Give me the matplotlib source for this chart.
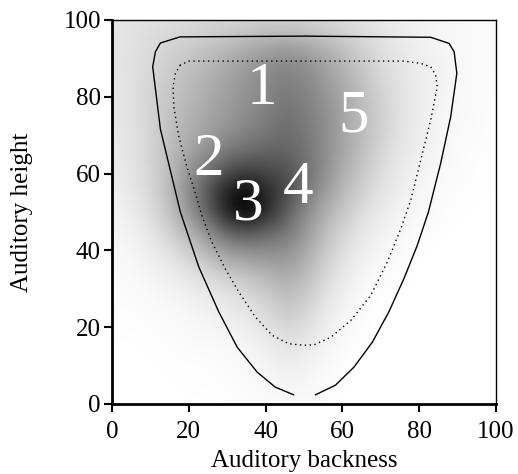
import numpy as np
import matplotlib
matplotlib.use("Agg")
import matplotlib.pyplot as plt

# density grid (darkness 0..1): rows from y=100 down to y=0, cols x=0..100, step 5
grid_x = list(range(0, 101, 5))
grid_y = list(range(100, -1, -5))
density = [
    [.10, .11, .12, .13, .14, .15, .16, .17, .18, .18, .17, .15, .13, .11, .09, .07, .05, .04, .03, .02, .02],
    [.10, .12, .14, .16, .18, .21, .24, .27, .30, .32, .30, .26, .21, .16, .12, .08, .06, .04, .03, .02, .02],
    [.10, .12, .15, .19, .23, .27, .32, .37, .42, .45, .42, .36, .28, .21, .14, .10, .07, .05, .03, .02, .02],
    [.10, .12, .16, .21, .26, .31, .36, .41, .46, .50, .47, .40, .32, .24, .16, .11, .07, .05, .03, .02, .02],
    [.09, .12, .17, .23, .28, .33, .38, .43, .48, .53, .50, .43, .35, .26, .18, .12, .07, .05, .03, .02, .01],
    [.09, .12, .17, .24, .30, .35, .40, .45, .50, .56, .52, .45, .36, .27, .19, .12, .07, .04, .03, .02, .01],
    [.08, .11, .17, .25, .32, .38, .44, .50, .54, .58, .54, .46, .36, .27, .18, .11, .07, .04, .02, .02, .01],
    [.08, .11, .17, .26, .36, .45, .55, .60, .62, .63, .56, .46, .35, .25, .16, .10, .06, .04, .02, .01, .01],
    [.07, .10, .16, .27, .42, .58, .72, .78, .74, .70, .58, .45, .32, .22, .14, .08, .05, .03, .02, .01, .01],
    [.06, .09, .15, .27, .45, .68, .88, .98, .85, .72, .55, .40, .28, .18, .11, .06, .04, .02, .01, .01, .00],
    [.05, .07, .13, .24, .40, .62, .88, 1.0, .85, .66, .47, .33, .22, .14, .08, .05, .03, .02, .01, .00, .00],
    [.04, .05, .10, .18, .30, .45, .62, .68, .62, .55, .42, .28, .17, .10, .06, .03, .02, .01, .00, .00, .00],
    [.03, .04, .07, .12, .20, .30, .40, .45, .45, .45, .36, .23, .13, .07, .04, .02, .01, .00, .00, .00, .00],
    [.02, .03, .05, .08, .12, .18, .24, .28, .32, .36, .30, .18, .10, .05, .02, .01, .00, .00, .00, .00, .00],
    [.02, .02, .03, .05, .07, .10, .13, .17, .22, .28, .24, .14, .07, .03, .01, .01, .00, .00, .00, .00, .00],
    [.01, .01, .02, .03, .04, .06, .08, .11, .16, .22, .19, .10, .05, .02, .01, .00, .00, .00, .00, .00, .00],
    [.01, .01, .01, .02, .03, .04, .05, .07, .11, .16, .14, .07, .03, .01, .00, .00, .00, .00, .00, .00, .00],
    [.00, .00, .01, .01, .02, .02, .03, .04, .07, .11, .09, .05, .02, .01, .00, .00, .00, .00, .00, .00, .00],
    [.00, .00, .00, .01, .01, .01, .02, .03, .04, .07, .06, .03, .01, .00, .00, .00, .00, .00, .00, .00, .00],
    [.00, .00, .00, .00, .01, .01, .01, .02, .03, .04, .04, .02, .01, .00, .00, .00, .00, .00, .00, .00, .00],
    [.00, .00, .00, .00, .00, .00, .01, .01, .02, .02, .02, .01, .00, .00, .00, .00, .00, .00, .00, .00, .00],
]

# outer (solid) contour
outer_x = [47.3, 42.5, 37.8, 32.6, 27.8, 22.6, 17.8, 12.6, 10.6, 11.3, 12.6, 17.7,
           50.0, 83.0, 87.8, 89.1, 89.8, 88.2, 85.6, 82.4, 79.5, 76.0, 72.1, 67.8,
           63.0, 58.2, 53.0]
outer_y = [2.4, 4.4, 8.3, 14.8, 24.0, 35.7, 50.0, 71.6, 87.8, 91.7, 94.0, 95.6,
           95.8, 95.5, 93.9, 91.7, 86.1, 74.8, 62.7, 50.0, 41.3, 32.6, 24.0, 16.1,
           9.6, 4.9, 2.4]

# inner (dotted) contour
inner_x = [17.8, 16.5, 15.9, 16.1, 17.4, 19.5, 21.7, 23.4, 26.0, 29.5, 33.0, 37.3,
           41.7, 46.0, 50.0, 52.6, 57.0, 62.2, 67.4, 71.7, 75.2, 77.8, 80.4, 83.0,
           84.7, 84.3, 83.0, 80.4, 76.0, 50.0, 20.0, 17.8]
inner_y = [88.3, 86.1, 82.6, 77.4, 69.6, 61.8, 54.9, 49.1, 42.2, 35.2, 29.2, 22.7,
           17.9, 15.7, 15.3, 15.4, 17.4, 21.8, 28.3, 37.0, 45.6, 53.1, 63.5, 74.0,
           82.6, 85.7, 87.8, 88.7, 89.3, 89.3, 89.3, 88.3]

labels = ["1", "2", "3", "4", "5"]
label_x = [39.0, 25.2, 35.4, 48.4, 63.0]
label_y = [82.0, 63.6, 51.8, 56.3, 74.8]

plt.rcParams["font.family"] = ["Liberation Serif", "DejaVu Serif"]

fig = plt.figure(figsize=(5.18, 4.74), dpi=100)
ax = fig.add_axes([112 / 518, 1 - 404 / 474, 384 / 518, 384 / 474])

d = np.array(density)
step = grid_x[1] - grid_x[0]
ax.imshow(d, cmap="gray_r", vmin=0, vmax=1, interpolation="bicubic",
          extent=(grid_x[0] - step / 2, grid_x[-1] + step / 2,
                  grid_y[-1] - step / 2, grid_y[0] + step / 2),
          origin="upper", aspect="auto", zorder=0)

ax.plot(outer_x, outer_y, color="black", lw=1.0, zorder=2)
ax.plot(inner_x, inner_y, color="black", lw=1.0, linestyle=(0, (1, 2.5)), zorder=2)

for t, x, y in zip(labels, label_x, label_y):
    ax.text(x, y, t, color="white", fontsize=44, ha="center", va="center", zorder=3)

ax.set_xlim(0, 100)
ax.set_ylim(0, 100)
ticks = [0, 20, 40, 60, 80, 100]
ax.set_xticks(ticks)
ax.set_yticks(ticks)
ax.tick_params(direction="out", length=6, width=1.5, labelsize=18, pad=2)
ax.tick_params(axis="x", pad=6)
for s in ["left", "bottom"]:
    ax.spines[s].set_linewidth(2.0)
for s in ["top", "right"]:
    ax.spines[s].set_linewidth(1.0)
ax.set_xlabel("Auditory backness", fontsize=18, labelpad=5)
ax.set_ylabel("Auditory height", fontsize=18, labelpad=22)

fig.savefig("out.png", dpi=100)
